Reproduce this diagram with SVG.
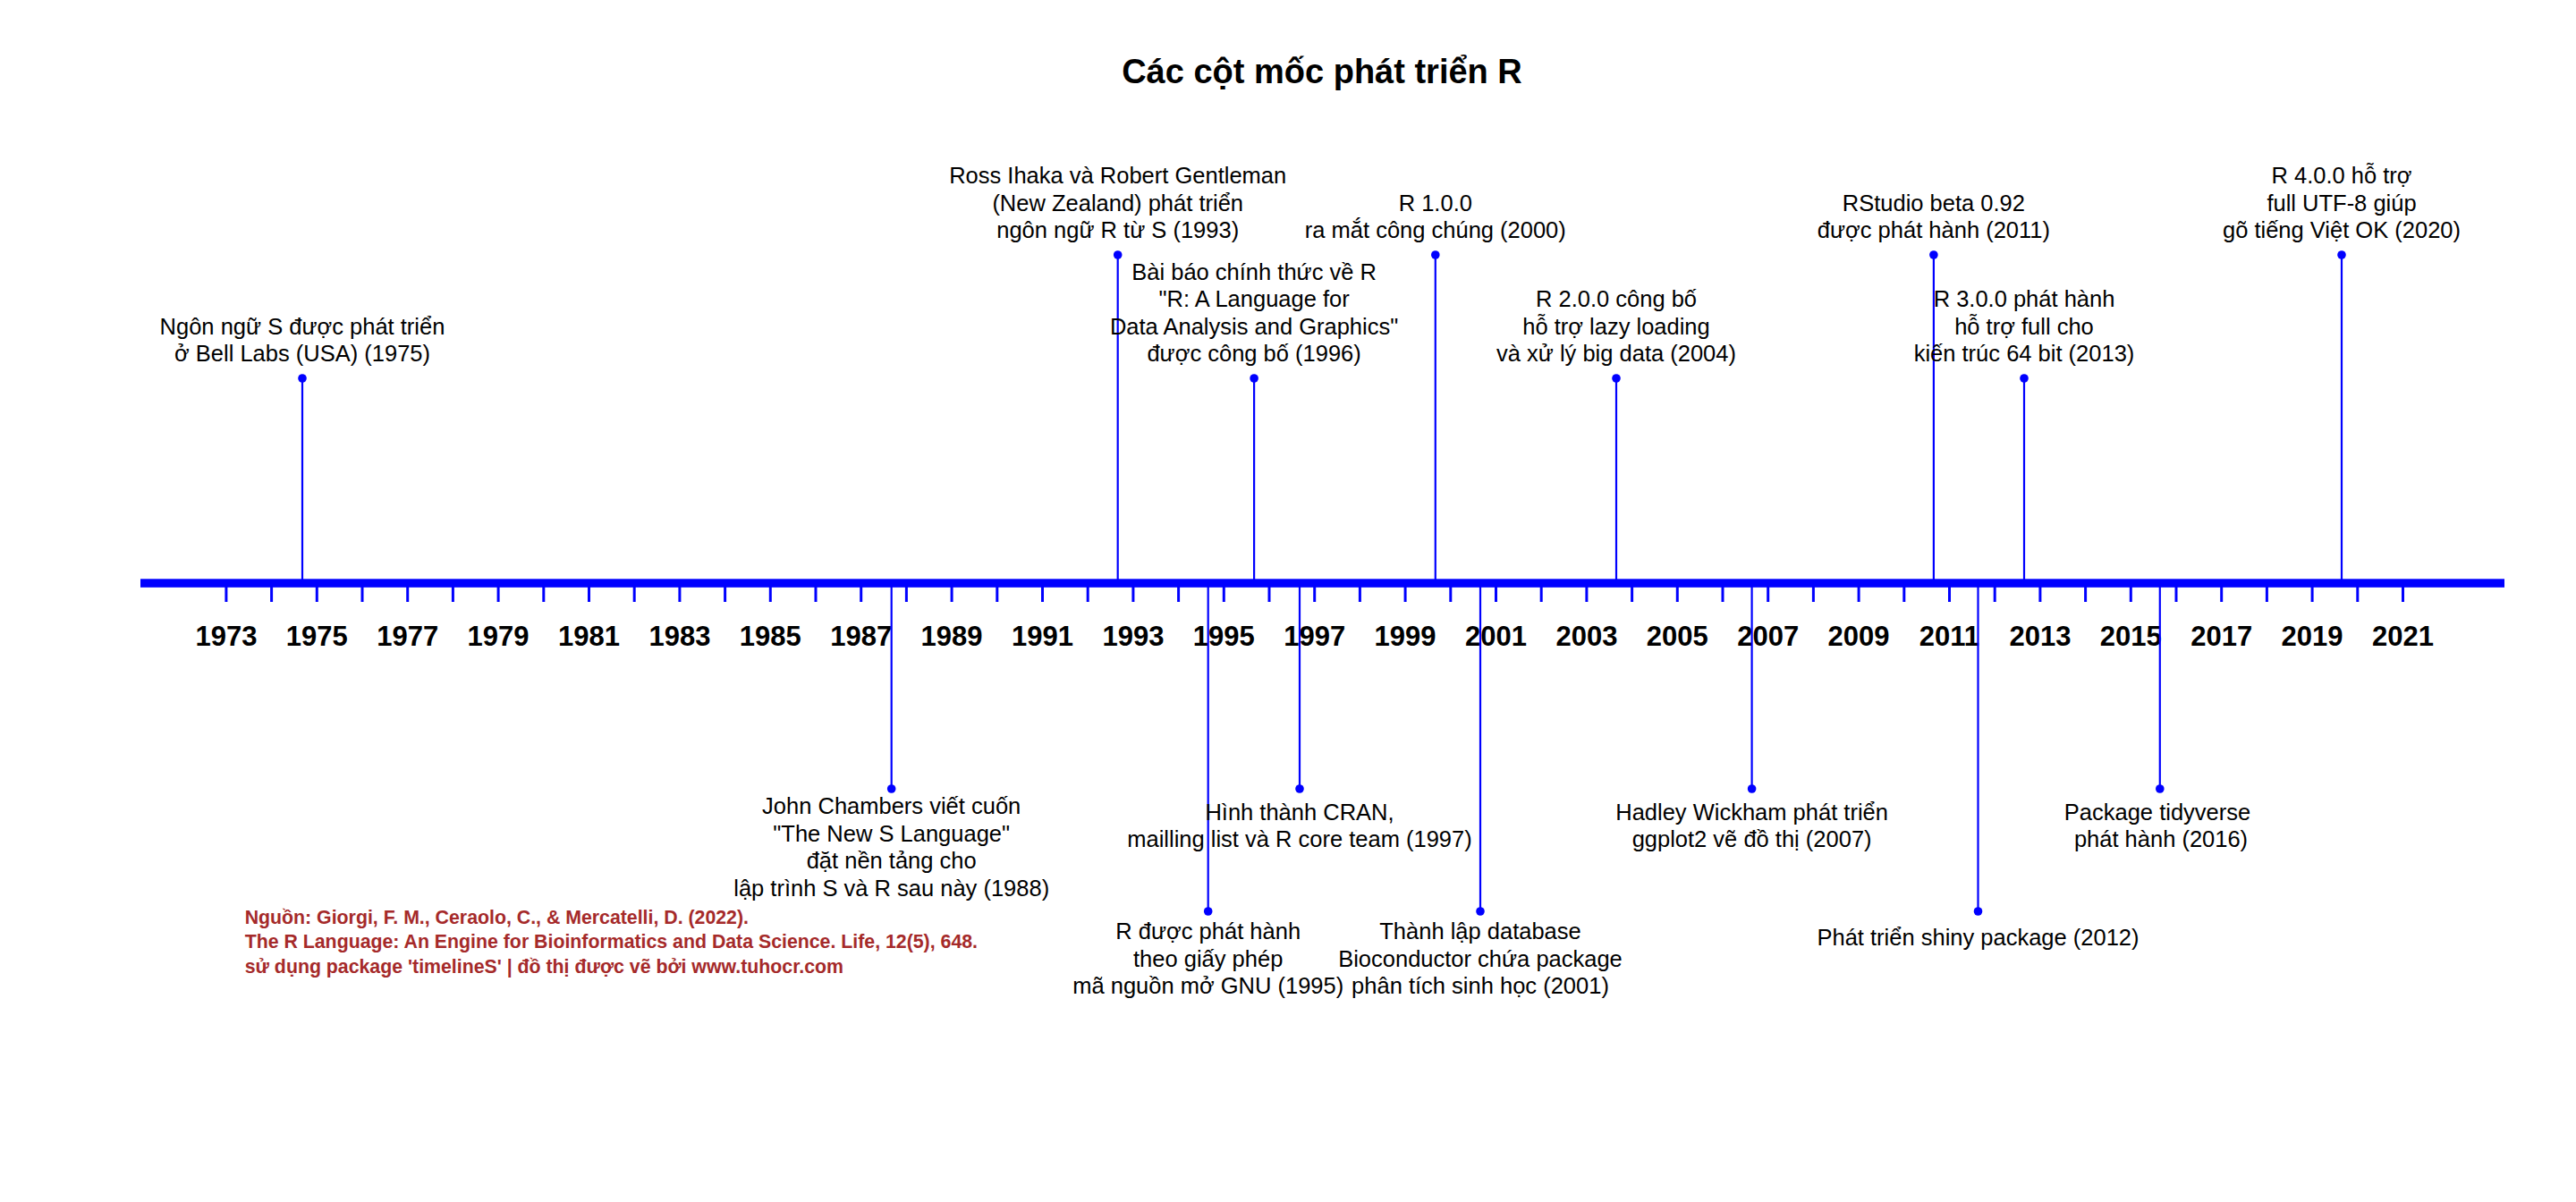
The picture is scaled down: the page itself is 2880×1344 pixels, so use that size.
<svg xmlns="http://www.w3.org/2000/svg" width="2880" height="1344" viewBox="0 0 2880 1344">
<style>
text{font-family:"Liberation Sans",Arial,sans-serif}
.title{font-size:38px;font-weight:bold;text-anchor:middle;fill:#000}
.lbl{font-size:25.5px;text-anchor:middle;fill:#000}
.yr{font-size:31px;font-weight:bold;text-anchor:middle;fill:#000}
.src{font-size:21.3px;font-weight:bold;fill:#A52A2A}
.conn{stroke:#0000FF;stroke-width:2.2;fill:none}
.tick{stroke:#0000FF;stroke-width:3}
.dot{fill:#0000FF}
</style>
<rect width="2880" height="1344" fill="#fff"/>
<text class="title" x="1478" y="92.5">Các cột mốc phát triển R</text>

<g id="axis">
<rect x="157" y="647.3" width="2643" height="9.5" fill="#0000FF"/>
<g class="tick">
<line x1="252.9" y1="656" x2="252.9" y2="673"/><line x1="303.6" y1="656" x2="303.6" y2="673"/><line x1="354.3" y1="656" x2="354.3" y2="673"/><line x1="405.0" y1="656" x2="405.0" y2="673"/><line x1="455.7" y1="656" x2="455.7" y2="673"/><line x1="506.4" y1="656" x2="506.4" y2="673"/><line x1="557.1" y1="656" x2="557.1" y2="673"/><line x1="607.8" y1="656" x2="607.8" y2="673"/><line x1="658.5" y1="656" x2="658.5" y2="673"/><line x1="709.2" y1="656" x2="709.2" y2="673"/>
<line x1="759.9" y1="656" x2="759.9" y2="673"/><line x1="810.6" y1="656" x2="810.6" y2="673"/><line x1="861.3" y1="656" x2="861.3" y2="673"/><line x1="912.0" y1="656" x2="912.0" y2="673"/><line x1="962.7" y1="656" x2="962.7" y2="673"/><line x1="1013.4" y1="656" x2="1013.4" y2="673"/><line x1="1064.1" y1="656" x2="1064.1" y2="673"/><line x1="1114.8" y1="656" x2="1114.8" y2="673"/><line x1="1165.5" y1="656" x2="1165.5" y2="673"/><line x1="1216.2" y1="656" x2="1216.2" y2="673"/>
<line x1="1266.9" y1="656" x2="1266.9" y2="673"/><line x1="1317.6" y1="656" x2="1317.6" y2="673"/><line x1="1368.3" y1="656" x2="1368.3" y2="673"/><line x1="1419.0" y1="656" x2="1419.0" y2="673"/><line x1="1469.7" y1="656" x2="1469.7" y2="673"/><line x1="1520.4" y1="656" x2="1520.4" y2="673"/><line x1="1571.1" y1="656" x2="1571.1" y2="673"/><line x1="1621.8" y1="656" x2="1621.8" y2="673"/><line x1="1672.5" y1="656" x2="1672.5" y2="673"/><line x1="1723.2" y1="656" x2="1723.2" y2="673"/>
<line x1="1773.9" y1="656" x2="1773.9" y2="673"/><line x1="1824.6" y1="656" x2="1824.6" y2="673"/><line x1="1875.3" y1="656" x2="1875.3" y2="673"/><line x1="1926.0" y1="656" x2="1926.0" y2="673"/><line x1="1976.7" y1="656" x2="1976.7" y2="673"/><line x1="2027.4" y1="656" x2="2027.4" y2="673"/><line x1="2078.1" y1="656" x2="2078.1" y2="673"/><line x1="2128.8" y1="656" x2="2128.8" y2="673"/><line x1="2179.5" y1="656" x2="2179.5" y2="673"/><line x1="2230.2" y1="656" x2="2230.2" y2="673"/>
<line x1="2280.9" y1="656" x2="2280.9" y2="673"/><line x1="2331.6" y1="656" x2="2331.6" y2="673"/><line x1="2382.3" y1="656" x2="2382.3" y2="673"/><line x1="2433.0" y1="656" x2="2433.0" y2="673"/><line x1="2483.7" y1="656" x2="2483.7" y2="673"/><line x1="2534.4" y1="656" x2="2534.4" y2="673"/><line x1="2585.1" y1="656" x2="2585.1" y2="673"/><line x1="2635.8" y1="656" x2="2635.8" y2="673"/><line x1="2686.5" y1="656" x2="2686.5" y2="673"/>
</g>
<g class="yr">
<text x="252.9" y="722">1973</text><text x="354.3" y="722">1975</text><text x="455.7" y="722">1977</text><text x="557.1" y="722">1979</text><text x="658.5" y="722">1981</text><text x="759.9" y="722">1983</text><text x="861.3" y="722">1985</text><text x="962.7" y="722">1987</text><text x="1064.1" y="722">1989</text><text x="1165.5" y="722">1991</text><text x="1266.9" y="722">1993</text><text x="1368.3" y="722">1995</text><text x="1469.7" y="722">1997</text><text x="1571.1" y="722">1999</text><text x="1672.5" y="722">2001</text><text x="1773.9" y="722">2003</text><text x="1875.3" y="722">2005</text><text x="1976.7" y="722">2007</text><text x="2078.1" y="722">2009</text><text x="2179.5" y="722">2011</text><text x="2280.9" y="722">2013</text><text x="2382.3" y="722">2015</text><text x="2483.7" y="722">2017</text><text x="2585.1" y="722">2019</text><text x="2686.5" y="722">2021</text>
</g>
</g>

<g id="connectors" class="conn">
<line x1="338" y1="423" x2="338" y2="648"/>
<line x1="1249.7" y1="285" x2="1249.7" y2="648"/>
<line x1="1402.1" y1="423" x2="1402.1" y2="648"/>
<line x1="1604.8" y1="285" x2="1604.8" y2="648"/>
<line x1="1807" y1="423" x2="1807" y2="648"/>
<line x1="2161.9" y1="285" x2="2161.9" y2="648"/>
<line x1="2263" y1="423" x2="2263" y2="648"/>
<line x1="2618" y1="285" x2="2618" y2="648"/>
<line x1="996.7" y1="656" x2="996.7" y2="882"/>
<line x1="1350.7" y1="656" x2="1350.7" y2="1019"/>
<line x1="1453" y1="656" x2="1453" y2="882"/>
<line x1="1655" y1="656" x2="1655" y2="1019"/>
<line x1="1958.6" y1="656" x2="1958.6" y2="882"/>
<line x1="2211.5" y1="656" x2="2211.5" y2="1019"/>
<line x1="2414.8" y1="656" x2="2414.8" y2="882"/>
</g>

<g id="e1975"><circle class="dot" cx="338" cy="423" r="4.8"/>
<text class="lbl"><tspan x="338" y="373.7">Ngôn ngữ S được phát triển</tspan><tspan x="338" y="404.3">ở Bell Labs (USA) (1975)</tspan></text></g>

<g id="e1993"><circle class="dot" cx="1249.7" cy="285" r="4.8"/>
<text class="lbl"><tspan x="1249.7" y="205.1">Ross Ihaka và Robert Gentleman</tspan><tspan x="1249.7" y="235.7">(New Zealand) phát triển</tspan><tspan x="1249.7" y="266.3">ngôn ngữ R từ S (1993)</tspan></text></g>

<g id="e1996"><circle class="dot" cx="1402.1" cy="423" r="4.8"/>
<text class="lbl"><tspan x="1402.1" y="312.5">Bài báo chính thức về R</tspan><tspan x="1402.1" y="343.1">"R: A Language for</tspan><tspan x="1402.1" y="373.7">Data Analysis and Graphics"</tspan><tspan x="1402.1" y="404.3">được công bố (1996)</tspan></text></g>

<g id="e2000"><circle class="dot" cx="1604.8" cy="285" r="4.8"/>
<text class="lbl"><tspan x="1604.8" y="235.7">R 1.0.0</tspan><tspan x="1604.8" y="266.3">ra mắt công chúng (2000)</tspan></text></g>

<g id="e2004"><circle class="dot" cx="1807" cy="423" r="4.8"/>
<text class="lbl"><tspan x="1807" y="343.1">R 2.0.0 công bố</tspan><tspan x="1807" y="373.7">hỗ trợ lazy loading</tspan><tspan x="1807" y="404.3">và xử lý big data (2004)</tspan></text></g>

<g id="e2011"><circle class="dot" cx="2161.9" cy="285" r="4.8"/>
<text class="lbl"><tspan x="2161.9" y="235.7">RStudio beta 0.92</tspan><tspan x="2161.9" y="266.3">được phát hành (2011)</tspan></text></g>

<g id="e2013"><circle class="dot" cx="2263" cy="423" r="4.8"/>
<text class="lbl"><tspan x="2263" y="343.1">R 3.0.0 phát hành</tspan><tspan x="2263" y="373.7">hỗ trợ full cho</tspan><tspan x="2263" y="404.3">kiến trúc 64 bit (2013)</tspan></text></g>

<g id="e2020"><circle class="dot" cx="2618" cy="285" r="4.8"/>
<text class="lbl"><tspan x="2618" y="205.1">R 4.0.0 hỗ trợ</tspan><tspan x="2618" y="235.7">full UTF-8 giúp</tspan><tspan x="2618" y="266.3">gõ tiếng Việt OK (2020)</tspan></text></g>

<g id="e1988"><circle class="dot" cx="996.7" cy="882" r="4.8"/>
<text class="lbl"><tspan x="996.7" y="910">John Chambers viết cuốn</tspan><tspan x="996.7" y="940.6">"The New S Language"</tspan><tspan x="996.7" y="971.2">đặt nền tảng cho</tspan><tspan x="996.7" y="1001.8">lập trình S và R sau này (1988)</tspan></text></g>

<g id="e1995"><circle class="dot" cx="1350.7" cy="1019" r="4.8"/>
<text class="lbl"><tspan x="1350.7" y="1050">R được phát hành</tspan><tspan x="1350.7" y="1080.6">theo giấy phép</tspan><tspan x="1350.7" y="1111.2">mã nguồn mở GNU (1995)</tspan></text></g>

<g id="e1997"><circle class="dot" cx="1453" cy="882" r="4.8"/>
<text class="lbl"><tspan x="1453" y="916.7">Hình thành CRAN,</tspan><tspan x="1453" y="947.3">mailling list và R core team (1997)</tspan></text></g>

<g id="e2001"><circle class="dot" cx="1655" cy="1019" r="4.8"/>
<text class="lbl"><tspan x="1655" y="1050">Thành lập database</tspan><tspan x="1655" y="1080.6">Bioconductor chứa package</tspan><tspan x="1655" y="1111.2">phân tích sinh học (2001)</tspan></text></g>

<g id="e2007"><circle class="dot" cx="1958.6" cy="882" r="4.8"/>
<text class="lbl"><tspan x="1958.6" y="916.7">Hadley Wickham phát triển</tspan><tspan x="1958.6" y="947.3">ggplot2 vẽ đồ thị (2007)</tspan></text></g>

<g id="e2012"><circle class="dot" cx="2211.5" cy="1019" r="4.8"/>
<text class="lbl" x="2211.5" y="1056.7">Phát triển shiny package (2012)</text></g>

<g id="e2016"><circle class="dot" cx="2414.8" cy="882" r="4.8"/>
<text class="lbl"><tspan x="2412" y="916.7">Package tidyverse</tspan><tspan x="2416" y="947.3">phát hành (2016)</tspan></text></g>

<g id="source">
<text class="src" x="273.7" y="1033">Nguồn: Giorgi, F. M., Ceraolo, C., &amp; Mercatelli, D. (2022).</text>
<text class="src" x="273.7" y="1060.4">The R Language: An Engine for Bioinformatics and Data Science. Life, 12(5), 648.</text>
<text class="src" x="273.7" y="1087.6">sử dụng package 'timelineS' | đồ thị được vẽ bởi www.tuhocr.com</text>
</g>
</svg>
